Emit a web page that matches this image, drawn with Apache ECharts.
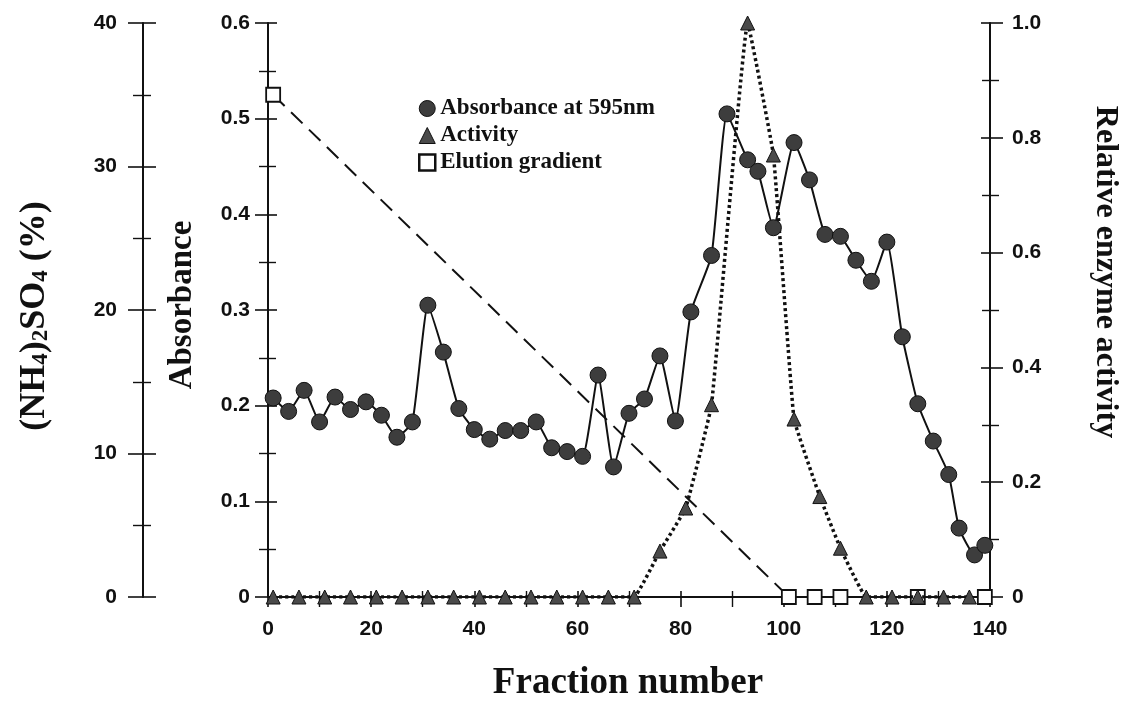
<!DOCTYPE html>
<html>
<head>
<meta charset="utf-8">
<script src="https://cdn.jsdelivr.net/npm/echarts@6/dist/echarts.min.js"></script>
<style>
html,body{margin:0;padding:0;background:#fff;}
#c{width:1131px;height:707px;}
</style>
</head>
<body>
<div id="c"></div>
<script>
// Absorbance at 595 nm (left axis)
const absFraction = [1,4,7,10,13,16,19,22,25,28,31,34,37,40,43,46,49,52,55,58,61,64,67,70,73,76,79,82,86,89,93,95,98,102,105,108,111,114,117,120,123,126,129,132,134,137,139];
const absValues = [0.208,0.194,0.216,0.183,0.209,0.196,0.204,0.190,0.167,0.183,0.305,0.256,0.197,0.175,0.165,0.174,0.174,0.183,0.156,0.152,0.147,0.232,0.136,0.192,0.207,0.252,0.184,0.298,0.357,0.505,0.457,0.445,0.386,0.475,0.436,0.379,0.377,0.352,0.330,0.371,0.272,0.202,0.163,0.128,0.072,0.044,0.054];
// Relative enzyme activity (right axis)
const actFraction = [1,6,11,16,21,26,31,36,41,46,51,56,61,66,71,76,81,86,93,98,102,107,111,116,121,126,131,136];
const actValues = [0,0,0,0,0,0,0,0,0,0,0,0,0,0,0,0.08,0.155,0.335,1.0,0.77,0.31,0.175,0.085,0,0,0,0,0];
// Elution gradient (NH4)2SO4 % (far-left axis)
const gradFraction = [1,101,106,111,126,139];
const gradValues = [35,0,0,0,0,0];
// Tick settings
const xTicks = {min:0, max:140, interval:20};
const absTicks = {min:0, max:0.6, interval:0.1};
const actTicks = {min:0, max:1.0, interval:0.2};
const gradTicks = {min:0, max:40, interval:10};

const pairs = (xs, ys) => xs.map((x, i) => [x, ys[i]]);

const tickFont = {fontFamily:'Liberation Sans', fontWeight:'bold', fontSize:21, color:'#111'};
const lineStyleAxis = {color:'#111', width:2};

function yAx(t, opts) {
  return Object.assign({
    type:'value', min:t.min, max:t.max, interval:t.interval,
    axisLine:{show:true, onZero:false, lineStyle:lineStyleAxis},
    axisTick:{show:true, inside:false, length:13, lineStyle:{color:'#111', width:1.6}},
    minorTick:{show:true, splitNumber:2, length:9, lineStyle:{color:'#111', width:1.4}},
    splitLine:{show:false},
    axisLabel:Object.assign({}, tickFont)
  }, opts);
}
function yAxInner(t, opts) {
  return Object.assign({
    type:'value', min:t.min, max:t.max, interval:t.interval,
    axisLine:{show:false, onZero:false},
    axisTick:{show:true, inside:true, length:9, lineStyle:{color:'#111', width:1.6}},
    minorTick:{show:true, splitNumber:2, length:8, lineStyle:{color:'#111', width:1.4}},
    splitLine:{show:false},
    axisLabel:{show:false}
  }, opts);
}

const option = {
  backgroundColor:'#fff',
  animation:false,
  grid:{left:268, right:141, top:23, bottom:110},
  legend:{
    orient:'vertical', left:413, top:92, itemWidth:16, itemHeight:16, itemGap:4,
    textStyle:{fontFamily:'Liberation Serif', fontWeight:'bold', fontSize:23, color:'#111'},
    data:[
      {name:'Absorbance at 595nm', icon:'circle', itemStyle:{color:'#3d3d3d', borderColor:'#111', borderWidth:1}},
      {name:'Activity', icon:'triangle', itemStyle:{color:'#4a4a4a', borderColor:'#111', borderWidth:1}},
      {name:'Elution gradient', icon:'rect', itemStyle:{color:'#fff', borderColor:'#111', borderWidth:2.5}}
    ]
  },
  xAxis:[
    {type:'value', min:xTicks.min, max:xTicks.max, interval:xTicks.interval,
     axisLine:{show:true, onZero:false, lineStyle:lineStyleAxis},
     axisTick:{show:true, length:10, lineStyle:{color:'#111', width:1.6}},
     minorTick:{show:true, splitNumber:2, length:10, lineStyle:{color:'#111', width:1.4}},
     splitLine:{show:false},
     axisLabel:Object.assign({margin:22}, tickFont)
    },
    {type:'value', min:xTicks.min, max:xTicks.max, interval:xTicks.interval, position:'bottom',
     axisLine:{show:false, onZero:false},
     axisTick:{show:true, inside:true, length:6, lineStyle:{color:'#111', width:1.6}},
     minorTick:{show:true, splitNumber:2, length:6, lineStyle:{color:'#111', width:1.4}},
     splitLine:{show:false}, axisLabel:{show:false}
    }
  ],
  yAxis:[
    yAx(absTicks, {position:'left', offset:0, axisLabel:Object.assign({margin:18, formatter:v=>v===0?'0':v.toFixed(1)}, tickFont)}),
    yAx(actTicks, {position:'right', offset:0, axisLabel:Object.assign({margin:22, formatter:v=>v===0?'0':v.toFixed(1)}, tickFont)}),
    yAx(gradTicks, {position:'left', offset:125, axisTick:{show:true, length:15, lineStyle:{color:'#111', width:1.6}}, minorTick:{show:true, splitNumber:2, length:10, lineStyle:{color:'#111', width:1.4}}, axisLabel:Object.assign({margin:26}, tickFont)}),
    yAxInner(absTicks, {position:'left', offset:0}),
    yAxInner(actTicks, {position:'right', offset:0}),
    yAxInner(gradTicks, {position:'left', offset:125, axisTick:{show:true, inside:true, length:13, lineStyle:{color:'#111', width:1.6}}})
  ],
  graphic:[
    {type:'text', x:33, y:316, rotation:Math.PI/2, z:10,
     style:{text:'{a|(NH}{s|4}{a|)}{s|2}{a|SO}{s|4}{a| (%)}', textAlign:'center', textVerticalAlign:'middle',
       rich:{a:{fontFamily:'Liberation Serif', fontWeight:'bold', fontSize:36, lineHeight:40, verticalAlign:'bottom', fill:'#111'},
             s:{fontFamily:'Liberation Serif', fontWeight:'bold', fontSize:23, lineHeight:18, verticalAlign:'bottom', fill:'#111'}}}},
    {type:'text', x:182, y:305, rotation:Math.PI/2, z:10,
     style:{text:'Absorbance', textAlign:'center', textVerticalAlign:'middle', fontFamily:'Liberation Serif', fontWeight:'bold', fontSize:33, fill:'#111'}},
    {type:'text', x:1105, y:272, rotation:-Math.PI/2, z:10,
     style:{text:'Relative enzyme activity', textAlign:'center', textVerticalAlign:'middle', fontFamily:'Liberation Serif', fontWeight:'bold', fontSize:32, fill:'#111'}},
    {type:'text', x:628, y:683, z:10,
     style:{text:'Fraction number', textAlign:'center', textVerticalAlign:'middle', fontFamily:'Liberation Serif', fontWeight:'bold', fontSize:37, fill:'#111'}}
  ],
  series:[
    {name:'Elution gradient', type:'line', xAxisIndex:0, yAxisIndex:2, data:pairs(gradFraction, gradValues),
     symbol:'rect', symbolSize:14, z:3,
     itemStyle:{color:'#fff', borderColor:'#111', borderWidth:1.8},
     lineStyle:{color:'#111', width:2, type:[16,9]}},
    {name:'Activity', type:'line', xAxisIndex:0, yAxisIndex:1, data:pairs(actFraction, actValues),
     symbol:'triangle', symbolSize:14, smooth:0.08, z:4,
     itemStyle:{color:'#4a4a4a', borderColor:'#111', borderWidth:1},
     lineStyle:{color:'#111', width:3.5, type:[3,3]}},
    {name:'Absorbance at 595nm', type:'line', xAxisIndex:0, yAxisIndex:0, data:pairs(absFraction, absValues),
     symbol:'circle', symbolSize:16, smooth:0.15, z:5,
     itemStyle:{color:'#3d3d3d', borderColor:'#111', borderWidth:1},
     lineStyle:{color:'#111', width:2}}
  ]
};
const chart = echarts.init(document.getElementById('c'), null, {renderer:'canvas'});
chart.setOption(option);
</script>
</body>
</html>
